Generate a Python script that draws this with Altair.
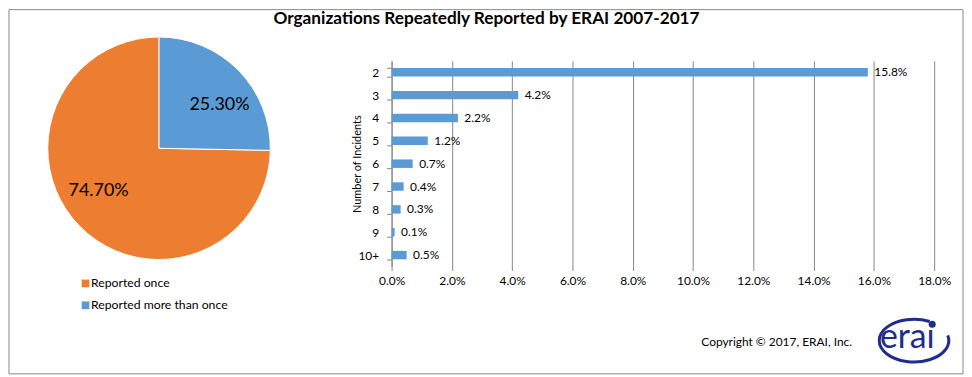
import altair as alt
import pandas as pd

title_text = "Organizations Repeatedly Reported by ERAI 2007-2017"
copyright_text = "Copyright \u00a9 2017, ERAI, Inc."
logo_text = "era\u0131"

pie_labels = ["Reported once", "Reported more than once"]
pie_values = [74.70, 25.30]
pie_order = [2, 1]
pie_colors = ["#ED7D31", "#5B9BD5"]

incident_cats = ["2", "3", "4", "5", "6", "7", "8", "9", "10+"]
incident_pct = [15.8, 4.2, 2.2, 1.2, 0.7, 0.4, 0.3, 0.1, 0.5]
x_ticks = [0, 2, 4, 6, 8, 10, 12, 14, 16, 18]

FONT = "Lato"
GRAY = "#878787"
LOGO = "#1F2C8F"

pie_df = pd.DataFrame({"label": pie_labels, "value": pie_values, "order": pie_order})
bar_df = pd.DataFrame({"cat": incident_cats, "pct": incident_pct})
one = pd.DataFrame({"t": [title_text]})
cp = pd.DataFrame({"t": [copyright_text]})
lg = pd.DataFrame({"t": [logo_text]})

color_scale = alt.Scale(domain=pie_labels, range=pie_colors)

border = alt.Chart(one).mark_rect(fill="white", fillOpacity=0, stroke=GRAY, strokeWidth=1).encode(
    x=alt.value(-385), x2=alt.value(575), y=alt.value(-51.5), y2=alt.value(315)
)

title = alt.Chart(one).mark_text(font=FONT, fontSize=17.3, fontWeight="bold", color="black",
                                 align="center", baseline="middle").encode(
    text="t:N", x=alt.value(95.5), y=alt.value(-42)
)

theta = alt.Theta("value:Q", stack=True)
order = alt.Order("order:Q")

PX, PY = -234, 88

pie = alt.Chart(pie_df).mark_arc(radius=112, stroke="white", strokeWidth=1).encode(
    theta=theta, order=order,
    color=alt.Color("label:N", scale=color_scale, legend=None),
    x=alt.value(PX), y=alt.value(PY)
)

pie_text = alt.Chart(pie_df).transform_calculate(
    lab="format(datum.value, '.2f') + '%'"
).mark_text(radius=74.5, thetaOffset=0.16, font=FONT, fontSize=18, color="black",
            align="center", baseline="middle").encode(
    theta=theta, order=order, text="lab:N",
    x=alt.value(PX), y=alt.value(PY)
)

legend_layers = []
for i, lab in enumerate(pie_labels):
    yv = 224 + 22 * i
    sq = alt.Chart(pie_df).transform_filter(alt.datum.label == lab).mark_square(
        size=60, filled=True, opacity=1).encode(
        x=alt.value(-308), y=alt.value(yv),
        color=alt.Color("label:N", scale=color_scale, legend=None)
    )
    tx = alt.Chart(pie_df).transform_filter(alt.datum.label == lab).mark_text(
        font=FONT, fontSize=12.3, color="black", align="left", baseline="middle").encode(
        text="label:N", x=alt.value(-302.5), y=alt.value(yv)
    )
    legend_layers += [sq, tx]

x_enc = alt.X("pct:Q", scale=alt.Scale(domain=[0, 18], nice=False, zero=True),
              axis=alt.Axis(values=x_ticks, labelExpr="format(datum.value, '.1f') + '%'",
                            grid=True, gridColor=GRAY, gridOpacity=1, domain=False,
                            ticks=True, tickColor=GRAY, tickSize=4, labelPadding=5,
                            labelFlush=False, labelOverlap=False, labelFont=FONT,
                            labelFontSize=12, labelColor="black", title=None))
y_enc = alt.Y("cat:N", sort=incident_cats,
              scale=alt.Scale(paddingInner=0.63, paddingOuter=0.315),
              axis=alt.Axis(domainColor=GRAY, tickColor=GRAY, tickSize=5, tickBand="extent",
                            labelPadding=8, labelFont=FONT, labelFontSize=12, labelColor="black",
                            title="Number of Incidents", titleFont=FONT, titleFontSize=11,
                            titleFontWeight="normal", titleColor="black", titlePadding=-5,
                            grid=False))

bars = alt.Chart(bar_df).mark_bar(color="#5B9BD5").encode(x=x_enc, y=y_enc)

bar_text = alt.Chart(bar_df).transform_calculate(
    lab="format(datum.pct, '.1f') + '%'"
).mark_text(align="left", baseline="middle", dx=6.5, font=FONT, fontSize=12, color="black").encode(
    x="pct:Q", y=alt.Y("cat:N", sort=incident_cats), text="lab:N"
)

copyright = alt.Chart(cp).mark_text(font=FONT, fontSize=12, color="black",
                                    align="center", baseline="middle").encode(
    text="t:N", x=alt.value(387.5), y=alt.value(283)
)

ellipse_path = "M 0.45 -0.548 A 1 0.614 0 1 0 0.97 -0.15"
logo_ring = alt.Chart(lg).mark_point(shape=ellipse_path, size=4900, filled=False,
                                     strokeWidth=3, color=LOGO, opacity=1).encode(
    x=alt.value(525.7), y=alt.value(281.5)
)
logo_dot = alt.Chart(lg).mark_point(shape="circle", size=50, filled=True,
                                    color=LOGO, opacity=1).encode(
    x=alt.value(544), y=alt.value(265)
)
logo = alt.Chart(lg).mark_text(font=FONT, fontSize=34, color=LOGO,
                               align="center", baseline="middle").encode(
    text="t:N", x=alt.value(519), y=alt.value(279)
)

chart = alt.layer(
    border, title, pie, pie_text, *legend_layers, bars, bar_text, copyright,
    logo_ring, logo_dot, logo
).properties(width=546, height=207, padding=0).configure_view(stroke=None)

chart.save("out.html", embed_options={"renderer": "svg", "actions": False})
